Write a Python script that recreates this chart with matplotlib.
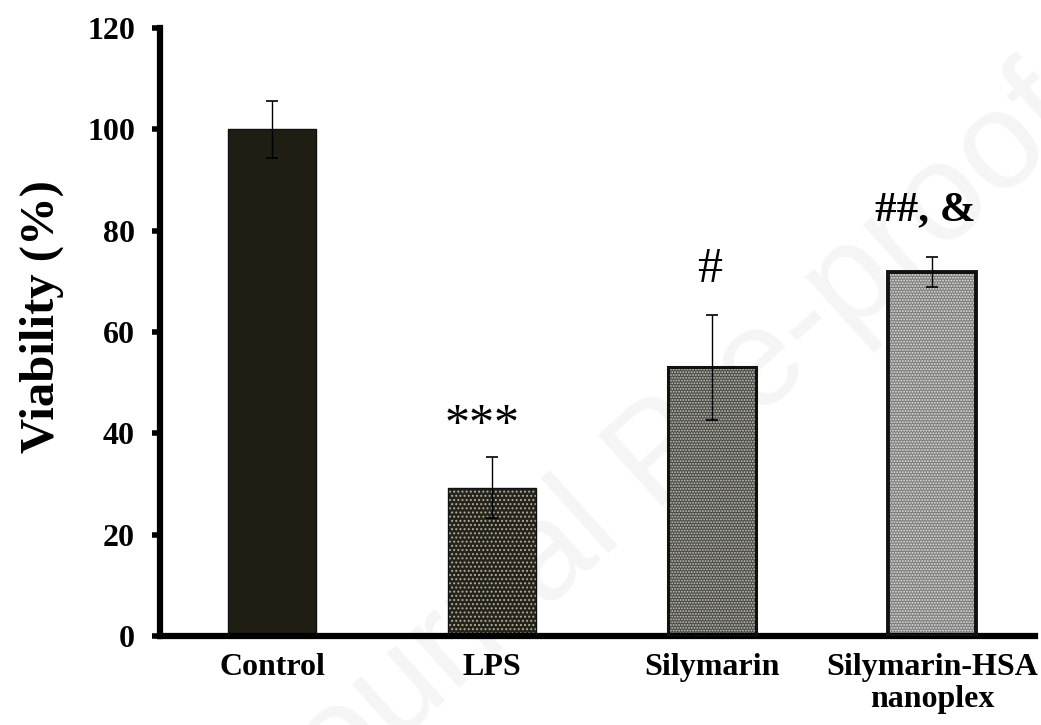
import numpy as np
import matplotlib
matplotlib.use('Agg')
import matplotlib.pyplot as plt

plt.rcParams['hatch.linewidth'] = 0.9

groups = ['Control', 'LPS', 'Silymarin', 'Silymarin-HSA\nnanoplex']
viability = [100.0, 29.3, 53.0, 71.8]
errors = [5.6, 6.0, 10.4, 3.0]
marks = ['', '***', '#', '##, &']
mark_y = [None, 39.0, 69.8, 82.0]
y_ticks = [0, 20, 40, 60, 80, 100, 120]

FACE = ['#201d12', '#26231b', '#4d4d48', '#7e7e7c']
HATCH = [None, '....', '......', '......']
HATCH_COL = [None, '#b3af9e', '#c4c4bc', '#e2e2e2']
EDGE_W = [1.0, 1.0, 2.2, 2.8]

fig = plt.figure(figsize=(10.41, 7.25), dpi=100)
ax = fig.add_axes([0.1537, 0.1228, 0.8403, 0.8386])

# faint watermark behind everything
fig.text(0.66, 0.40, 'Journal Pre-proofs', rotation=42, fontsize=100,
         color='#f5f5f5', ha='center', va='center', family='Liberation Sans',
         zorder=-5)

x = np.arange(len(groups))
for i in range(len(groups)):
    ax.bar(x[i], viability[i], width=0.4, color=FACE[i], hatch=HATCH[i],
           edgecolor=HATCH_COL[i] if HATCH[i] else FACE[i], linewidth=0, zorder=2)
    ax.bar(x[i], viability[i], width=0.4, fill=False, edgecolor='#111111',
           linewidth=EDGE_W[i], zorder=3)

ax.errorbar(x, viability, yerr=errors, fmt='none', ecolor='black',
            elinewidth=1.0, capsize=4.5, capthick=1.2, zorder=4)

for i, m in enumerate(marks):
    if m:
        xo = -0.03 if i == 3 else (-0.045 if i == 1 else -0.01)
        ax.text(x[i] + xo, mark_y[i], m, ha='center', va='baseline',
                fontsize=36 if i != 3 else 31,
                fontweight='bold' if i == 3 else 'normal',
                family='Liberation Serif', color='black')

ax.set_xlim(-0.509, 3.468)
ax.set_ylim(0, 120)
ax.set_yticks(y_ticks)
ax.set_yticklabels([str(t) for t in y_ticks], fontsize=23, fontweight='bold',
                   family='Liberation Serif')
ax.set_xticks(x)
ax.set_xticklabels(groups, fontsize=23, fontweight='bold', family='Liberation Serif',
                   linespacing=1.15)
ax.tick_params(axis='x', length=0, pad=12)
ax.tick_params(axis='y', length=6, width=4, direction='out', pad=12)
ax.set_ylabel('Viability (%)', fontsize=35, fontweight='bold',
              family='Liberation Serif')
ax.yaxis.set_label_coords(-0.11, 0.525)

for s in ['top', 'right']:
    ax.spines[s].set_visible(False)
for s in ['left', 'bottom']:
    ax.spines[s].set_linewidth(4.5)
ax.patch.set_alpha(0)

plt.savefig('out.png', dpi=100)
